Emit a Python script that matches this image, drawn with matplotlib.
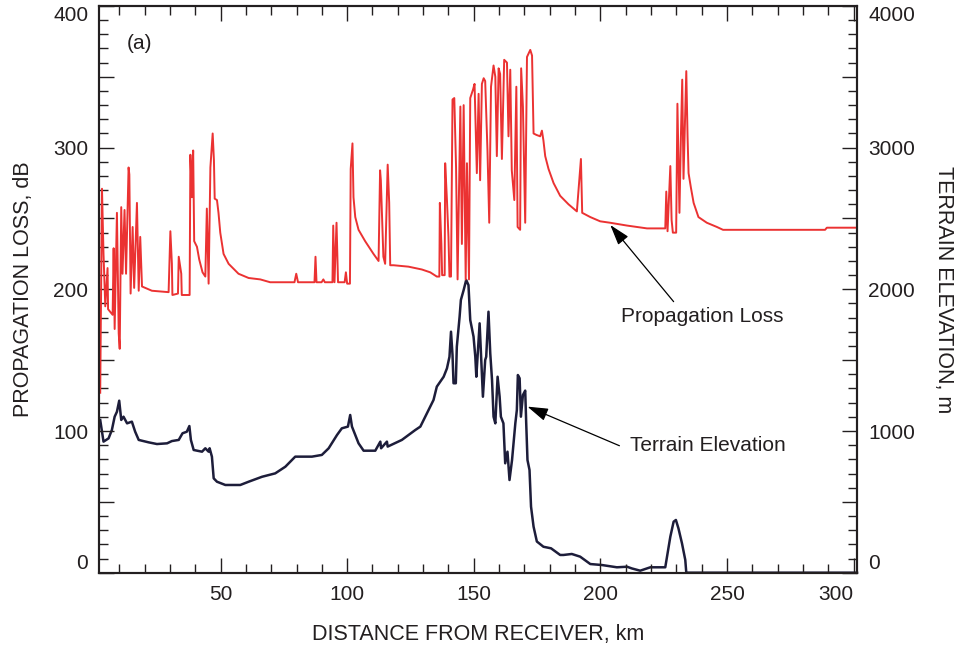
import matplotlib
matplotlib.use("Agg")
import matplotlib.pyplot as plt
from matplotlib.ticker import MultipleLocator, FuncFormatter

# propagation loss, dB
loss_km = [2.5, 3.2, 3.8, 4.5, 5.4, 5.6, 7.4, 7.8, 8.2, 9.1, 9.8, 10.2, 10.8, 11.3, 12.1, 12.7,
           13.7, 14.0, 14.5, 15.3, 15.9, 17.0, 17.7, 18.3, 19.0, 22.9, 29.5, 30.2, 30.8, 31.0,
           33.2, 33.5, 34.5, 34.7, 37.8, 38.1, 38.7, 39.2, 39.6, 40.7, 41.6, 42.9, 44.0, 44.6,
           45.3, 46.0, 46.9, 47.4, 47.7, 48.6, 49.2, 49.9, 51.2, 53.2, 57.1, 61.1, 65.7, 69.6,
           79.2, 79.9, 80.6, 87.1, 87.5, 87.9, 89.9, 90.6, 91.2, 94.2, 94.5, 95.0, 95.8, 96.4,
           99.0, 99.5, 100.0, 101.1, 101.4, 102.1, 102.5, 103.2, 104.5, 107.1, 110.4, 112.4,
           113.0, 113.3, 114.3, 115.0, 116.0, 116.6, 117.0, 118.3, 124.2, 129.5, 132.8, 135.4,
           136.4, 136.6, 137.2, 137.5, 138.5, 138.7, 139.4, 140.0, 140.4, 141.0, 141.6, 142.3,
           143.0, 143.6, 144.7, 145.3, 146.0, 146.8, 147.3, 148.1, 148.6, 149.7, 150.3, 151.2,
           151.9, 152.5, 153.2, 153.9, 154.5, 155.4, 156.1, 156.8, 157.8, 158.5, 159.1, 159.8,
           160.4, 161.1, 162.0, 163.1, 163.7, 164.4, 165.0, 166.0, 166.8, 167.3, 168.3, 168.7,
           169.4, 170.3, 171.0, 172.3, 173.0, 173.6, 174.7, 176.2, 176.9, 177.5, 178.2, 179.5,
           181.5, 184.1, 187.4, 190.7, 192.3, 192.8, 196.0, 199.9, 203.8, 210.5, 218.4, 225.6,
           226.0, 226.5, 227.6, 228.1, 228.6, 229.9, 230.4, 231.2, 231.8, 232.3, 232.8, 233.2,
           233.9, 234.4, 234.8, 235.7, 236.8, 238.7, 242.0, 246.0, 248.4, 288.7, 289.4, 301.3]
loss_db = [127, 271, 225, 188, 215, 186, 182, 229, 172, 254, 169, 158, 258, 211, 256, 211,
           286, 281, 197, 244, 201, 261, 199, 237, 202, 199, 198, 241, 218, 196,
           197, 223, 211, 196, 196, 295, 265, 298, 234, 230, 221, 212, 209, 257,
           204, 286, 310, 291, 264, 263, 254, 240, 225, 218, 211, 208, 207, 205,
           205, 211, 205, 205, 223, 205, 205, 207, 205, 205, 245, 205, 247, 205,
           205, 212, 204, 204, 285, 303, 265, 251, 242, 234, 225, 220,
           284, 277, 223, 218, 288, 261, 217, 217, 216, 214, 212, 209,
           209, 261, 232, 210, 210, 289, 263, 237, 209, 209, 334, 335,
           286, 207, 329, 232, 330, 207, 289, 207, 335, 341, 345, 282,
           338, 277, 345, 349, 347, 298, 247, 343, 358, 350, 294, 356,
           352, 292, 362, 360, 308, 355, 284, 263, 343, 244, 242, 356,
           329, 247, 364, 369, 365, 310, 309, 308, 312, 305, 294, 285,
           275, 266, 260, 255, 292, 254, 251, 248, 247, 245, 243, 243,
           269, 241, 287, 249, 240, 240, 331, 254, 310, 348, 278, 305,
           354, 308, 282, 272, 261, 251, 247, 244, 242, 242, 243.5, 243.5]

# terrain elevation, m
terr_km = [2.5, 3.8, 5.8, 7.1, 8.2, 9.1, 10.0, 10.8, 11.7, 13.1, 15.0, 16.3, 17.7, 21.6, 24.9,
           28.9, 30.8, 33.5, 35.0, 36.7, 37.7, 38.3, 39.4, 42.7, 44.0, 45.3, 45.7, 46.6, 47.3,
           48.6, 51.9, 57.8, 61.1, 66.4, 71.6, 75.6, 79.5, 86.1, 90.0, 92.7, 96.0, 97.9, 100.3,
           101.2, 101.9, 104.5, 106.5, 111.1, 113.1, 113.4, 115.7, 116.0, 121.6, 126.9, 128.9,
           131.5, 134.1, 135.4, 138.1, 139.4, 140.4, 141.0, 141.6, 142.0, 142.9, 143.3, 144.4,
           144.9, 146.0, 147.0, 147.9, 148.6, 149.9, 150.6, 151.0, 151.9, 152.3, 152.9, 153.6,
           154.5, 154.9, 155.8, 156.5, 157.2, 157.8, 158.5, 159.4, 160.2, 160.7, 161.7, 162.4,
           163.3, 164.1, 165.1, 166.4, 167.0, 167.4, 168.1, 168.6, 169.4, 170.3, 170.7, 171.2,
           172.0, 172.6, 173.6, 174.9, 177.5, 180.5, 184.1, 185.4, 188.7, 192.0, 196.0, 200.6,
           206.5, 210.5, 212.4, 215.7, 219.7, 225.6, 226.3, 227.6, 228.9, 229.8, 230.8, 232.2,
           233.5, 233.9, 301.3]
terr_m = [1078, 925, 948, 1007, 1101, 1136, 1214, 1078, 1101, 1054, 1066, 995, 937, 920, 908,
          913, 929, 937, 984, 995, 1035, 937, 866, 854, 878, 854, 878, 819, 666,
          642, 619, 619, 642, 677, 701, 748, 819, 819, 831, 878, 972, 1019, 1031,
          1113, 1031, 913, 861, 861, 925, 878, 925, 890, 937, 1007, 1031,
          1125, 1219, 1313, 1383, 1442, 1524, 1701, 1536, 1337, 1337, 1595, 1807,
          1925, 1995, 2066, 2030, 1783, 1666, 1524, 1383, 1642, 1760, 1524, 1242,
          1501, 1524, 1842, 1548, 1360, 1101, 1054, 1383, 1242, 1101, 1054, 772,
          854, 654, 795, 1054, 1148, 1395, 1372, 1101, 1254, 1285, 1054, 795,
          725, 466, 325, 220, 183, 172, 125, 125, 132, 113, 61, 54,
          38, 42, 30, 14, 38, 38, 113, 254, 360, 372, 313, 207,
          90, 0, 0]

red = "#eb3232"
navy = "#1d1d3a"
dark = "#231f20"
plt.rcParams['font.family'] = ['Liberation Sans', 'DejaVu Sans']

fig = plt.figure(figsize=(9.6, 6.49), dpi=100)
ax = fig.add_axes([0.1036, 0.1176, 0.7891, 0.8732])
ax2 = ax.twinx()
ax.set_zorder(ax2.get_zorder() + 1)
ax.patch.set_visible(False)

ax2.plot(terr_km, terr_m, color=navy, lw=1.8, clip_on=False)
ax.plot(loss_km, loss_db, color=red, lw=1.4)

ax.set_xlim(2.2, 301.3)
ax.set_ylim(0, 400)
ax2.set_ylim(0, 4000)

ax.xaxis.set_major_locator(MultipleLocator(50))
ax.xaxis.set_minor_locator(MultipleLocator(10))
ax.yaxis.set_major_locator(MultipleLocator(50))
ax.yaxis.set_minor_locator(MultipleLocator(10))
ax2.yaxis.set_major_locator(MultipleLocator(500))
ax2.yaxis.set_minor_locator(MultipleLocator(100))
ax.yaxis.set_major_formatter(FuncFormatter(lambda v, p: f"{v:.0f}" if v % 100 == 0 else ""))
ax2.yaxis.set_major_formatter(FuncFormatter(lambda v, p: f"{v:.0f}" if v % 1000 == 0 else ""))

for a in (ax, ax2):
    for s in a.spines.values():
        s.set_linewidth(1.5)
        s.set_color(dark)
    a.tick_params(which='both', direction='in', width=1, colors=dark, labelsize=15)
    a.tick_params(which='major', length=11)
    a.tick_params(which='minor', length=6.5)
ax.tick_params(which='both', top=True, right=False)
ax.tick_params(axis='y', pad=8)
ax.tick_params(axis='x', pad=9)
ax2.tick_params(which='both', left=False, right=True, pad=8)

ax.set_xlabel("DISTANCE FROM RECEIVER, km", fontsize=15.5, color=dark)
ax.set_ylabel("PROPAGATION LOSS, dB", fontsize=15.5, color=dark)
ax2.set_ylabel("TERRAIN ELEVATION, m", fontsize=15.5, color=dark, rotation=270, va='bottom')
ax.xaxis.set_label_coords(0.5, -0.09)
ax.yaxis.set_label_coords(-0.086, 0.5)
ax2.yaxis.set_label_coords(1.10, 0.5)

arrow = dict(arrowstyle='-|>,head_length=0.7,head_width=0.22', color='black', lw=0.9,
             mutation_scale=18, shrinkA=0, shrinkB=0)
ax.annotate('', xy=(203.9, 245.4), xytext=(228.9, 191.3), arrowprops=arrow)
ax.annotate('', xy=(171.2, 117.2), xytext=(207.5, 89.6), arrowprops=arrow)
ax.text(208, 180.7, "Propagation Loss", fontsize=15, color=dark, ha='left', va='center')
ax.text(211.8, 89.6, "Terrain Elevation", fontsize=15, color=dark, ha='left', va='center')
ax.text(13.1, 373.6, "(a)", fontsize=15, color=dark, ha='left', va='center')

fig.canvas.draw()
# end labels sit inside the frame
for a, lo, hi in ((ax, 0, 400), (ax2, 0, 4000)):
    for t in a.yaxis.get_major_ticks():
        if abs(t.get_loc() - lo) < 1e-6:
            t.label1.set_va('bottom')
            t.label2.set_va('bottom')
        if abs(t.get_loc() - hi) < 1e-6:
            t.label1.set_va('top')
            t.label2.set_va('top')
for t in ax.xaxis.get_major_ticks():
    if abs(t.get_loc() - 300) < 1e-6:
        t.label1.set_ha('right')

fig.savefig("out.png", dpi=100)
